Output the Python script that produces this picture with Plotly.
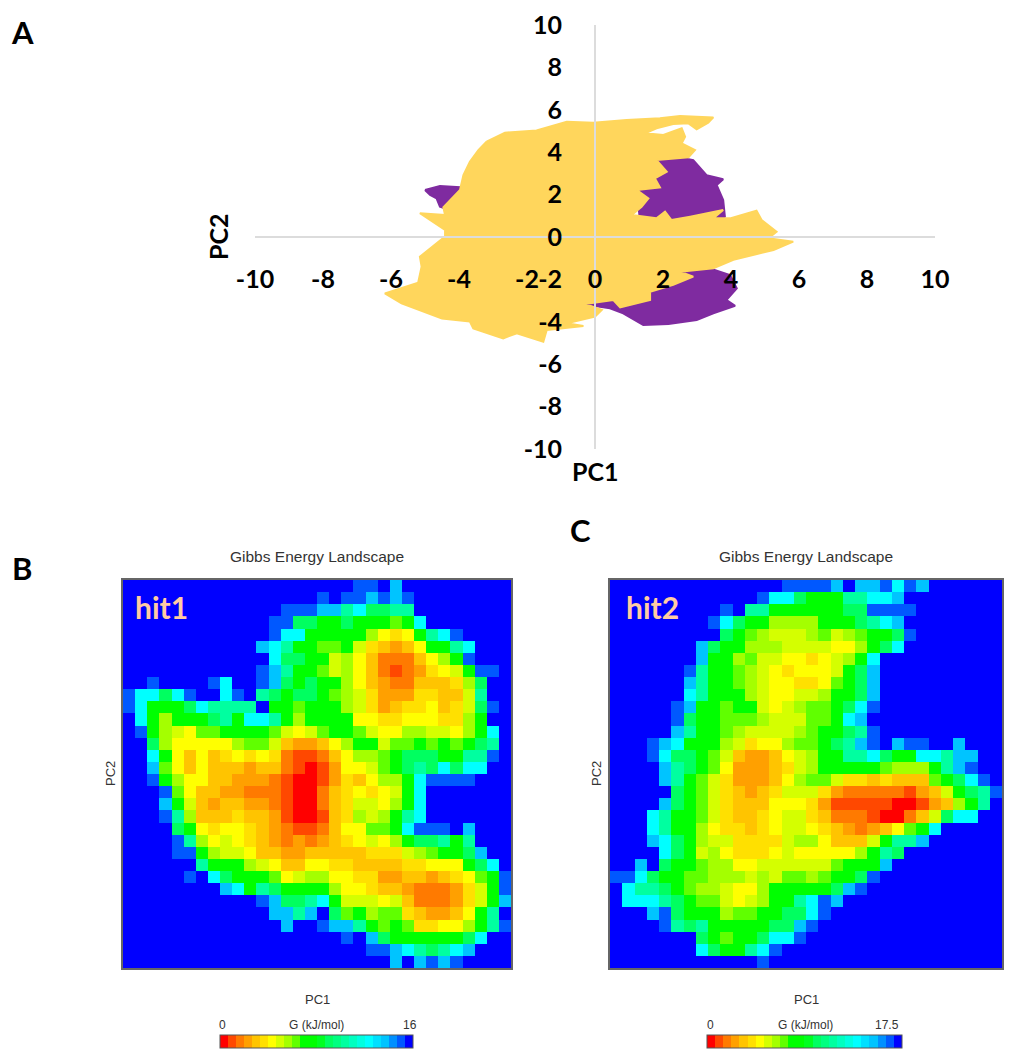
import plotly.graph_objects as go

W, H = 1019, 1060
TICKS = [-10, -8, -6, -4, -2, 0, 2, 4, 6, 8, 10]
TICK_TEXT = ["-10", "-8", "-6", "-4", "-2", "0", "2", "4", "6", "8", "10"]

# Panel A: outlines, in PC units
YELLOW_X = [-3.19,-2.65,-1.72,-0.83,-0.05,0.93,1.91,2.50,3.48,3.33,2.99,2.75,2.30,1.81,1.47,2.01,2.55,2.65,2.55,2.94,2.75,1.81,2.11,1.76,1.91,1.23,1.57,1.37,1.08,1.81,2.06,2.25,2.80,3.77,3.48,3.97,4.75,4.90,5.34,5.10,5.83,5.25,4.07,3.48,2.50,2.89,2.30,1.62,1.62,0.74,0.54,-0.29,0.20,0,-0.83,-0.34,-1.42,-1.52,-2.30,-2.70,-3.58,-3.68,-4.50,-5.15,-5.69,-6.18,-5.20,-5.10,-5.15,-4.41,-4.41,-5.15,-4.41,-4.46,-3.97,-3.87,-3.68,-3.43]
YELLOW_Y = [4.50,4.92,5.02,5.44,5.39,5.52,5.60,5.71,5.64,5.39,5.08,5.36,5.33,5.13,4.89,4.81,5.13,4.73,4.42,4.10,3.76,3.63,3.08,2.77,2.34,2.22,1.82,1.43,1.04,0.88,1.19,0.80,0.96,1.27,0.88,0.88,1.24,0.80,0.25,-0.06,-0.22,-0.61,-1.08,-1.48,-1.64,-1.87,-2.26,-2.58,-2.97,-3.32,-2.97,-3.16,-3.44,-3.76,-4.07,-4.20,-4.39,-4.94,-4.54,-4.78,-4.31,-3.99,-3.84,-3.47,-3.13,-2.66,-2.15,-1.40,-0.93,0.02,0.33,1.12,1.04,1.40,2.22,2.92,3.55,4.10]
PURPLE_UP_X = [1.81,2.40,2.89,3.28,3.77,3.58,3.77,3.82,3.48,1.33,1.23,1.52]
PURPLE_UP_Y = [3.63,3.79,3.63,2.92,2.72,2.45,1.75,0.96,0.65,0.65,2.22,2.83]
PURPLE_LOW_X = [3.38,3.97,4.17,3.87,4.12,3.48,2.99,2.16,1.42,0.83,0.44,-0.25,1.62,2.50]
PURPLE_LOW_Y = [-1.48,-1.79,-2.42,-2.97,-3.25,-3.60,-3.92,-4.10,-4.15,-3.60,-3.36,-3.20,-2.36,-1.56]
PURPLE_LEFT_X = [-5.0,-4.56,-3.87,-3.97,-4.26,-4.56,-4.66,-4.85]
PURPLE_LEFT_Y = [2.22,2.41,2.34,1.90,1.27,1.43,1.82,1.98]

# Panels B, C: colour level of every cell, top row first (0 red ... g blue)
HIT1 = [
"gggggggggggggggggggffge",
"ggggggggggggggggfgffefef",
"gggggggggggggfffeecdbbcc",
"ggggggggggggffbbaabaaa9ad",
"ggggggggggggfddaaaaa8656acdf",
"gggggggggggedcaa99a754346aacd",
"ggggggggggggdbbaa7864222468af",
"gggggggggggfecaa978642123567aff",
"ggfggggfdggfebabaa86432244458b",
"fddbdfggdfgcbabba987533355447c",
"fdaaabdccccgaa9aaa87534556457bfg",
"gda8aaabcaddca8aaaa6655666558agg",
"gfa87699aaaa97679aa9766887768adg",
"ggb8666668997433468aa799a9a9abcg",
"ggda646456565211246889abbbaaccfg",
"gge9646444344210136679abcbdbddgg",
"ggfa8664433321001354688adffffggg",
"gggf9644332221002456567ad",
"gggea743443321002457768ad",
"gggfc84445443100145878acd",
"ggggba6566543211246699adfffge",
"ggggfc86765432323456768abbcac",
"ggggffa8776443344444555789aabe",
"ggggggcaaa876446655444455666abdg",
"gggggfgdbaaa967886655334434569af",
"ggggggggedacbaaaa8665443222357af",
"gggggggggggfebbcda777674222357ae",
"ggggggggggggeecegb9a899543346acg",
"gggggggggggggeggfeeca9a955668acf",
"ggggggggggggggggggfgebaaaaaabd",
"ggggggggggggggggggggffedcbcde",
"ggggggggggggggggggggggegefef",
]
HIT2 = [
"ggggggggggggggffffegeefdfe",
"ggggggggggggfddbaaaccdde",
"gggggggggfgccaaaaaabbffff",
"ggggggggfdbaa8888aaabcde",
"gggggggggba9877789789aabf",
"gggggggebaa8887777668abd",
"gggggggeaa8977665678ad",
"ggggggfcaa987656667abe",
"ggggggecaa987665569abe",
"ggggggdcaaa8766778aabe",
"gggggfeaa9aa767899abdf",
"gggggfbaa999877799ade",
"gggggecaa98777789aabcf",
"gggfedaaa87566899abcefgeffgge",
"gggfdbba974334678aaccdbaaddcee",
"ggggecba963334578aaaaa9888acef",
"ggggeca97533346899755454449abdf",
"gggggba975434577753222221347abcf",
"ggggeba9754446665311111001348ac",
"gggdcaa97544567754222100247bdd",
"gggdcaa865545677654323469ad",
"gggedba877555578864447acce",
"ggggdba78655567666668acb",
"ggegbaa988667777779aaae",
"ffdbaa998887879989aabf",
"gdccba9887668aaaaabef",
"gdddcba997678aacdfe",
"gggefbaaa899aabbdf",
"ggggfcbcaaaaabbef",
"gggggggba9aabddf",
"gggggggdbaacdf",
"ggggggggggggf",
]
LEVELS = "0123456789abcdefg"
LEVEL_BIN = [0,1,2,3,4,5,6,7,8,9,10,13,15,18,20,22,23]
BIN_COLORS = ["#ff0000","#ff4800","#ff7a00","#ffa000","#ffc400","#ffe000","#ffff00","#d4ff00",
              "#a4ff00","#60ff00","#00ff00","#00ff00","#00ff20","#00ff60","#00ff80","#00ffa0",
              "#00ffc0","#00ffe0","#00ffff","#00e0ff","#00c4ff","#0090ff","#0058ff","#0000ff"]
G_MAX_HIT1 = 16
G_MAX_HIT2 = 17.5
G_TICKS_HIT1 = ["0", "16"]
G_TICKS_HIT2 = ["0", "17.5"]

def grid(rows, gmax):
    return [[(LEVEL_BIN[LEVELS.index(c)] + 0.5) / 24 * gmax for c in r.ljust(32, "g")[:32]] for r in rows[::-1]]

scale = []
for k, c in enumerate(BIN_COLORS):
    scale += [[k / 24, c], [(k + 1) / 24, c]]

def px(x): return x / W
def py(y): return 1 - y / H

fig = go.Figure()
YEL, PUR = "#ffd65c", "#7f2ba0"
for xs, ys, col in [(PURPLE_UP_X, PURPLE_UP_Y, PUR), (PURPLE_LOW_X, PURPLE_LOW_Y, PUR),
                    (PURPLE_LEFT_X, PURPLE_LEFT_Y, PUR), (YELLOW_X, YELLOW_Y, YEL)]:
    fig.add_trace(go.Scatter(x=xs + xs[:1], y=ys + ys[:1], mode="lines", fill="toself", fillcolor=col,
                             line=dict(color=col, width=2), xaxis="x", yaxis="y",
                             showlegend=False, hoverinfo="skip"))

def heat(rows, gmax, ax, cb_x0, cb_x1):
    fig.add_trace(go.Heatmap(z=grid(rows, gmax), colorscale=scale, zmin=0, zmax=gmax, xaxis="x" + ax, yaxis="y" + ax,
                             colorbar=dict(orientation="h", x=px(cb_x0), xanchor="left", y=py(1049), yanchor="bottom",
                                           lenmode="pixels", len=cb_x1 - cb_x0, thickness=13, thicknessmode="pixels",
                                           outlinecolor="#555555", outlinewidth=1, showticklabels=False, ticks="",
                                           xpad=0, ypad=0)))
heat(HIT1, G_MAX_HIT1, "2", 220, 413)
heat(HIT2, G_MAX_HIT2, "3", 707, 902)

lato = "Lato, Carlito, sans-serif"
tick = dict(family=lato, size=25, color="#000000", weight="bold")
hidden = dict(showticklabels=False, ticks="", showgrid=False, zeroline=False, showline=True, linecolor="#666666",
              linewidth=1.5, mirror=True, range=[-0.5, 31.5])
fig.update_layout(
    width=W, height=H, autosize=False, margin=dict(l=0, r=0, t=0, b=0, autoexpand=False), paper_bgcolor="white", plot_bgcolor="white",
    showlegend=False,
    xaxis=dict(domain=[px(255), px(935)], range=[-10, 10], anchor="free", position=py(237), tickvals=TICKS, ticktext=TICK_TEXT, tickfont=tick,
               ticks="", showgrid=False, zeroline=False, showline=True, linecolor="#dcdcdc", linewidth=2, ticklabelstandoff=20),
    yaxis=dict(domain=[py(449), py(25)], range=[-10, 10], anchor="free", position=px(595), tickvals=TICKS, ticktext=TICK_TEXT, tickfont=tick,
               ticks="", showgrid=False, zeroline=False, showline=True, linecolor="#dcdcdc", linewidth=2, ticklabelstandoff=27),
    xaxis2=dict(domain=[px(123), px(511)], anchor="y2", **hidden),
    yaxis2=dict(domain=[py(968), py(580)], anchor="x2", **hidden),
    xaxis3=dict(domain=[px(610), px(1002)], anchor="y3", **hidden),
    yaxis3=dict(domain=[py(968), py(580)], anchor="x3", **hidden),
)

def note(x, y, text, size, color="#000000", family="Liberation Sans, Arial, sans-serif", bold=False, angle=0):
    t = f"<b>{text}</b>" if bold else text
    fig.add_annotation(xref="paper", yref="paper", x=px(x), y=py(y), text=t, showarrow=False, textangle=angle,
                       xanchor="center", yanchor="middle", font=dict(family=family, size=size, color=color))

note(22, 32, "A", 31, family=lato, bold=True)
note(22, 568, "B", 31, family=lato, bold=True)
note(580, 530, "C", 31, family=lato, bold=True)
note(595, 471, "PC1", 25, family=lato, bold=True)
note(218, 237, "PC2", 25, family=lato, bold=True, angle=-90)
grey = "#333333"
for cx, lx, name, c0, c1, ticks in [(317, 110, "hit1", 222, 316, G_TICKS_HIT1), (806, 596, "hit2", 710, 805, G_TICKS_HIT2)]:
    note(cx, 556, "Gibbs Energy Landscape", 15.5, grey)
    note(cx, 999, "PC1", 13, grey)
    note(lx, 774, "PC2", 13, grey, angle=-90)
    note(c1, 1025, "G (kJ/mol)", 12, grey)
    note(c0, 1025, ticks[0], 12, grey)
    note(410 if name == "hit1" else 887, 1025, ticks[1], 12, grey)
note(161, 607, "hit1", 30, "#ffcba4", lato, True)
note(652, 607, "hit2", 30, "#ffcba4", lato, True)

fig.write_html("out.html", post_script="document.body.style.margin='0';", config={"displayModeBar": False})
